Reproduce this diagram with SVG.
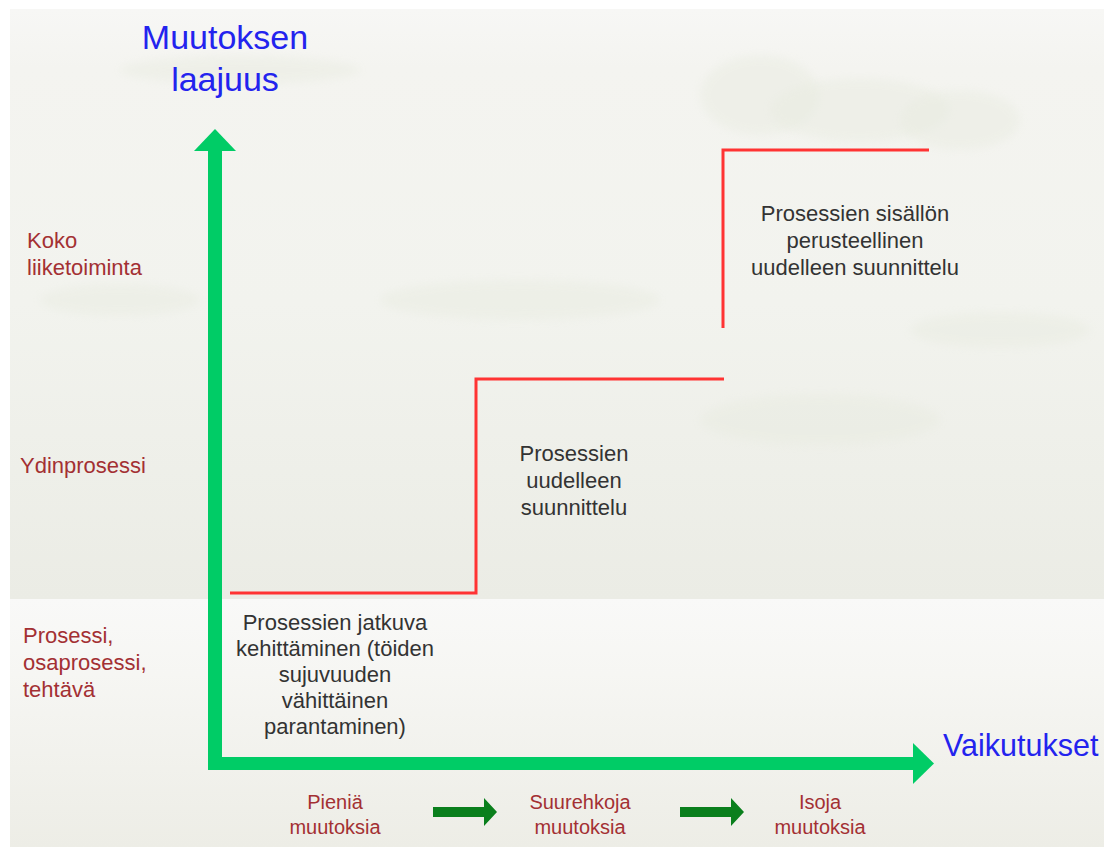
<svg xmlns="http://www.w3.org/2000/svg" width="1104" height="847" viewBox="0 0 1104 847">
  <defs>
    <linearGradient id="bgTop" x1="0" y1="0" x2="0" y2="1">
      <stop offset="0" stop-color="#f7f7f5"/>
      <stop offset="0.1" stop-color="#f4f4f0"/>
      <stop offset="0.5" stop-color="#f2f3ee"/>
      <stop offset="1" stop-color="#ebece5"/>
    </linearGradient>
    <linearGradient id="bgBottom" x1="0" y1="0" x2="0" y2="1">
      <stop offset="0" stop-color="#f9f9f8"/>
      <stop offset="0.3" stop-color="#f6f6f3"/>
      <stop offset="1" stop-color="#ededE6"/>
    </linearGradient>
    <filter id="blur" x="-20%" y="-20%" width="140%" height="140%">
      <feGaussianBlur stdDeviation="4"/>
    </filter>
    <style>
      .axis { fill: #00cc66; }
      .step { fill: none; stroke: #ff3333; stroke-width: 3; }
      .small { fill: #0a7f1c; }
      .title { font-family: "Liberation Sans", Arial, sans-serif; fill: #2323ee; }
      .lvl { font-family: "Liberation Sans", Arial, sans-serif; font-size: 22px; fill: #a33033; }
      .body { font-family: "Liberation Sans", Arial, sans-serif; font-size: 22px; fill: #333333; text-anchor: middle; }
      .chg { font-family: "Liberation Sans", Arial, sans-serif; font-size: 20px; fill: #a33033; text-anchor: middle; }
      .cloud { fill: #e8ebe0; opacity: 0.45; filter: url(#blur); }
    </style>
  </defs>

  <g id="background">
    <rect x="0" y="0" width="1104" height="847" fill="#ffffff"/>
    <rect x="10" y="9" width="1094" height="590" fill="url(#bgTop)"/>
    <rect x="10" y="599" width="1094" height="248" fill="url(#bgBottom)"/>
    <ellipse class="cloud" cx="240" cy="70" rx="120" ry="14"/>
    <ellipse class="cloud" cx="760" cy="95" rx="60" ry="40"/>
    <ellipse class="cloud" cx="860" cy="110" rx="90" ry="32"/>
    <ellipse class="cloud" cx="960" cy="120" rx="60" ry="30"/>
    <ellipse class="cloud" cx="120" cy="300" rx="80" ry="16"/>
    <ellipse class="cloud" cx="520" cy="300" rx="140" ry="20"/>
    <ellipse class="cloud" cx="1000" cy="330" rx="90" ry="18"/>
    <ellipse class="cloud" cx="820" cy="420" rx="120" ry="26"/>
  </g>

  <g id="connectors">
    <g id="y-axis">
      <rect class="axis" x="208" y="150" width="14" height="620"/>
      <polygon class="axis" points="215,129 236,151 194,151"/>
    </g>
    <g id="x-axis">
      <rect class="axis" x="208" y="757" width="707" height="13"/>
      <polygon class="axis" points="913,743 934,763.5 913,784"/>
    </g>
    <g id="steps">
      <polyline class="step" points="230,593 476,593 476,379 724,379"/>
      <polyline class="step" points="723,328 723,150 929,150"/>
    </g>
    <g id="change-arrows">
      <path class="small" d="M433,807 H484 V798 L497,812 L484,826 V817 H433 Z"/>
      <path class="small" d="M680,807 H731 V798 L744,812 L731,826 V817 H680 Z"/>
    </g>
  </g>

  <g id="axis-titles">
    <text class="title" x="225" y="49" font-size="34" text-anchor="middle">Muutoksen</text>
    <text class="title" x="225" y="91" font-size="34" text-anchor="middle">laajuus</text>
    <text class="title" x="943" y="756" font-size="30.5">Vaikutukset</text>
  </g>

  <g id="level-koko">
    <text class="lvl" x="27" y="248">Koko</text>
    <text class="lvl" x="27" y="275">liiketoiminta</text>
  </g>
  <g id="level-ydin">
    <text class="lvl" x="20" y="473">Ydinprosessi</text>
  </g>
  <g id="level-prosessi">
    <text class="lvl" x="23" y="643">Prosessi,</text>
    <text class="lvl" x="23" y="670">osaprosessi,</text>
    <text class="lvl" x="23" y="697">tehtävä</text>
  </g>

  <g id="node-jatkuva">
    <text class="body" x="335" y="630">Prosessien jatkuva</text>
    <text class="body" x="335" y="656">kehittäminen (töiden</text>
    <text class="body" x="335" y="682">sujuvuuden</text>
    <text class="body" x="335" y="708">vähittäinen</text>
    <text class="body" x="335" y="734">parantaminen)</text>
  </g>
  <g id="node-uudelleen">
    <text class="body" x="574" y="461">Prosessien</text>
    <text class="body" x="574" y="488">uudelleen</text>
    <text class="body" x="574" y="515">suunnittelu</text>
  </g>
  <g id="node-perusteellinen">
    <text class="body" x="855" y="221">Prosessien sisällön</text>
    <text class="body" x="855" y="248">perusteellinen</text>
    <text class="body" x="855" y="275">uudelleen suunnittelu</text>
  </g>

  <g id="change-pienia">
    <text class="chg" x="335" y="809">Pieniä</text>
    <text class="chg" x="335" y="834">muutoksia</text>
  </g>
  <g id="change-suurehkoja">
    <text class="chg" x="580" y="809">Suurehkoja</text>
    <text class="chg" x="580" y="834">muutoksia</text>
  </g>
  <g id="change-isoja">
    <text class="chg" x="820" y="809">Isoja</text>
    <text class="chg" x="820" y="834">muutoksia</text>
  </g>
</svg>
